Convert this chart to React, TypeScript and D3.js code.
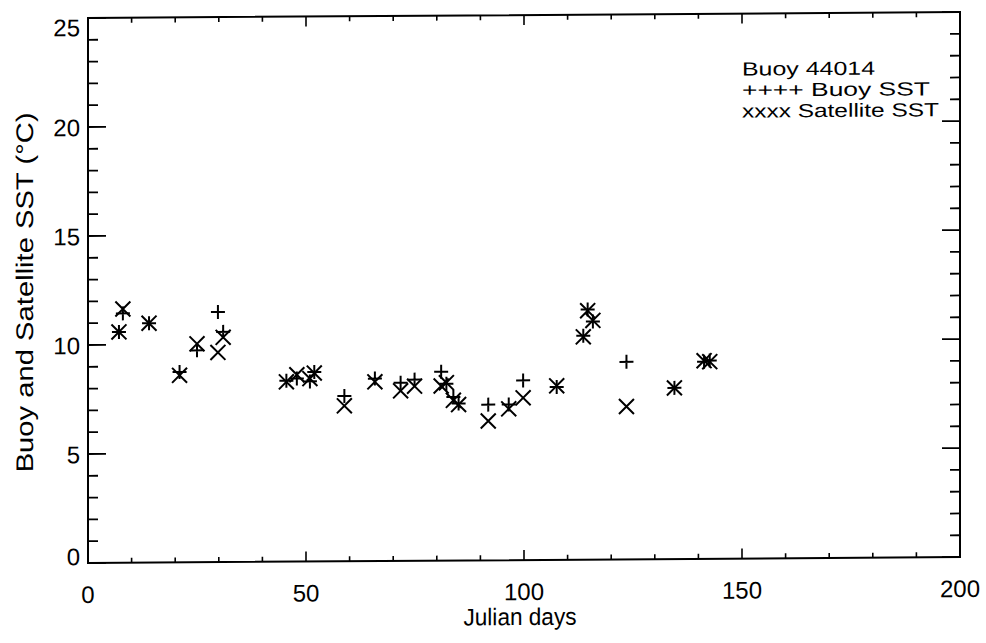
import React from "react";
import * as d3 from "d3";

const days = [7.1, 8.0, 14.0, 21.0, 25.0, 29.8, 31.0, 45.5, 47.9, 50.9, 51.9, 58.8, 65.8, 71.7, 74.9, 81.0, 82.2, 83.8, 85.0, 91.8, 96.5, 99.8, 107.5, 113.6, 114.6, 115.8, 123.5, 134.5, 141.3, 142.6];
const buoySST = [10.59, 11.44, 10.98, 8.73, 9.72, 11.47, 10.56, 8.3, 8.4, 8.26, 8.69, 7.58, 8.37, 8.17, 8.31, 8.66, 8.11, 7.5, 7.2, 7.14, 7.14, 8.24, 7.93, 10.27, 11.47, 10.92, 9.06, 7.85, 9.04, 9.09];
const satSST = [10.59, 11.64, 10.98, 8.58, 10.02, 9.62, 10.31, 8.25, 8.57, 8.39, 8.64, 7.13, 8.22, 7.8, 8.01, 8.01, 8.16, 7.35, 7.15, 6.39, 6.94, 7.44, 7.98, 10.22, 11.42, 10.97, 7.01, 7.85, 9.09, 9.04];
const xTicks = [0, 50, 100, 150, 200];
const yTicks = [0, 5, 10, 15, 20, 25];
const legendLines = ["Buoy 44014", "++++ Buoy SST", "xxxx Satellite SST"];

export default function App() {
  const W = 986, H = 643;
  const L = 88, R = 960, T = 18, B = 563;
  const x = d3.scaleLinear().domain([0, 200]).range([L, R]);
  const y = d3.scaleLinear().domain([0, 25]).range([B, T]);
  const xMinor = d3.range(0, 201, 10);
  const yMinor = d3.range(0, 26, 1);
  const font = "'Liberation Sans', Arial, sans-serif";
  const sw = 2;
  const ps = 7;
  const xs = 7.5;
  const legendY = [80, 101, 122];
  const legendW = [133, 188, 197];

  return (
    <svg width={W} height={H} style={{ position: "absolute", left: 0, top: 0, background: "#fff" }}>
      <rect x={0} y={0} width={W} height={H} fill="#fff" />
      <g transform="translate(0,0.6) skewY(-0.39)" fontFamily={font} fill="#000">
        <rect x={L} y={T} width={R - L} height={B - T} fill="none" stroke="#000" strokeWidth={sw} />
        {xMinor.map((v) => {
          const major = v % 50 === 0;
          const len = major ? 10 : 5;
          return (
            <g key={"xt" + v} stroke="#000" strokeWidth={1.6}>
              <line x1={x(v)} x2={x(v)} y1={B} y2={B - len} />
              <line x1={x(v)} x2={x(v)} y1={T} y2={T + len} />
            </g>
          );
        })}
        {yMinor.map((v) => {
          const major = v % 5 === 0;
          const len = major ? 18 : 10;
          return (
            <g key={"yt" + v} stroke="#000" strokeWidth={1.8}>
              <line x1={L} x2={L + len} y1={y(v)} y2={y(v)} />
              <line x1={R} x2={R - len} y1={y(v)} y2={y(v)} />
            </g>
          );
        })}
        {xTicks.map((v) => (
          <text key={"xl" + v} x={x(v)} y={603} fontSize={24} textAnchor="middle">
            {v}
          </text>
        ))}
        {yTicks.map((v) => (
          <text
            key={"yl" + v}
            x={80}
            y={Math.min(Math.max(y(v) + 9, T + 18), B + 2)}
            fontSize={24}
            textAnchor="end"
          >
            {v}
          </text>
        ))}
        <text x={520} y={628} fontSize={24} textAnchor="middle" textLength={113} lengthAdjust="spacingAndGlyphs">
          Julian days
        </text>
        <text
          transform="translate(33,292) rotate(-90)"
          x={0}
          y={0}
          fontSize={24}
          textAnchor="middle"
          textLength={360}
          lengthAdjust="spacingAndGlyphs"
        >
          Buoy and Satellite SST (°C)
        </text>
        {legendLines.map((t, i) => (
          <text key={"lg" + i} x={742} y={legendY[i]} fontSize={19} textLength={legendW[i]} lengthAdjust="spacingAndGlyphs">
            {t}
          </text>
        ))}
        <g stroke="#000" strokeWidth={sw} fill="none">
          {days.map((d, i) => (
            <path
              key={"b" + i}
              d={`M${x(d) - ps},${y(buoySST[i])}H${x(d) + ps}M${x(d)},${y(buoySST[i]) - ps}V${y(buoySST[i]) + ps}`}
            />
          ))}
          {days.map((d, i) => (
            <path
              key={"s" + i}
              d={`M${x(d) - xs},${y(satSST[i]) - xs}L${x(d) + xs},${y(satSST[i]) + xs}M${x(d) - xs},${y(satSST[i]) + xs}L${x(d) + xs},${y(satSST[i]) - xs}`}
            />
          ))}
        </g>
      </g>
    </svg>
  );
}
